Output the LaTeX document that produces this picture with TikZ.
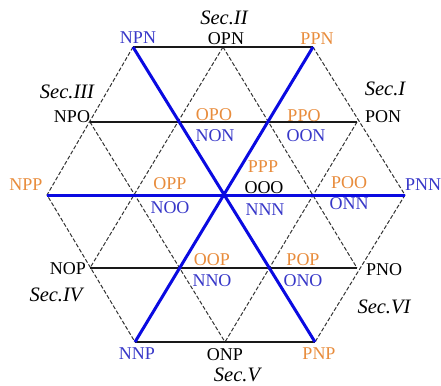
\documentclass[tikz,border=0pt]{standalone}
\usepackage{fontspec}
\setmainfont{Liberation Serif}
\definecolor{lblblue}{RGB}{55,55,200}
\definecolor{lblorange}{RGB}{232,140,60}
\definecolor{lineblue}{RGB}{10,10,225}
\begin{document}
\begin{tikzpicture}[x=1pt,y=-1pt,
  lbl/.style={inner sep=0pt,font=\fontsize{18}{19}\selectfont},
  bl/.style={lbl,text=lblblue},
  og/.style={lbl,text=lblorange},
  bk/.style={lbl,text=black},
  sec/.style={inner sep=0pt,font=\fontsize{20.5}{22}\selectfont\itshape},
  solidline/.style={draw=black!90,line width=1.3pt},
  dashline/.style={draw=black!80,line width=1pt,dash pattern=on 4pt off 2pt},
  blueline/.style={draw=lineblue,line width=3pt}]
\useasboundingbox (0,0) rectangle (441,385);
% grid vertices
\coordinate (a0) at (133,47);
\coordinate (a1) at (223,47);
\coordinate (a2) at (313,47);
\coordinate (b0) at (90,122);
\coordinate (b1) at (178,122);
\coordinate (b2) at (268,122);
\coordinate (b3) at (357,122);
\coordinate (c0) at (47,195);
\coordinate (c1) at (135,195);
\coordinate (c2) at (225,195);
\coordinate (c3) at (315,195);
\coordinate (c4) at (405,195);
\coordinate (d0) at (90,268);
\coordinate (d1) at (178,268);
\coordinate (d2) at (268,268);
\coordinate (d3) at (357,268);
\coordinate (e0) at (135,342);
\coordinate (e1) at (225,342);
\coordinate (e2) at (315,342);
% dashed grid lines
\draw[dashline] (a0) -- (c0) -- (e0);
\draw[dashline] (a2) -- (c4) -- (e2);
\draw[dashline] (a1) -- (d0);
\draw[dashline] (a1) -- (d3);
\draw[dashline] (b0) -- (e1);
\draw[dashline] (b3) -- (e1);
% solid horizontal lines
\draw[solidline] (a0) -- (a2);
\draw[solidline] (b0) -- (b3);
\draw[solidline] (d0) -- (d3);
\draw[solidline] (e0) -- (e2);
% blue axes
\draw[blueline] (c0) -- (c4);
\draw[blueline] (a0) -- (e2);
\draw[blueline] (e0) -- (a2);
% labels
\node[sec] (s2) at (224,18) {Sec.II};
\node[sec] (s1) at (385,89) {Sec.I};
\node[sec] (s3) at (67,92) {Sec.III};
\node[sec] (s4) at (56,295) {Sec.IV};
\node[sec] (s5) at (237,375) {Sec.V};
\node[sec] (s6) at (384,307) {Sec.VI};
\node[bk] (lOPN) at (226,39) {OPN};
\node[bl] (lNPN) at (138,38) {NPN};
\node[og] (lPPN) at (317,39) {PPN};
\node[bk] (lNPO) at (72,117) {NPO};
\node[bk] (lPON) at (383,117) {PON};
\node[og] (lOPO) at (214,115) {OPO};
\node[bl] (lNON) at (215,136) {NON};
\node[og] (lPPO) at (304,116) {PPO};
\node[bl] (lOON) at (306,136) {OON};
\node[og] (lPPP) at (263,167) {PPP};
\node[bk] (lOOO) at (264,188) {OOO};
\node[bl] (lNNN) at (265,210) {NNN};
\node[og] (lOPP) at (170,184) {OPP};
\node[bl] (lNOO) at (170,208) {NOO};
\node[og] (lNPP) at (26,185) {NPP};
\node[og] (lPOO) at (349,183) {POO};
\node[bl] (lONN) at (349,204) {ONN};
\node[bl] (lPNN) at (423,185) {PNN};
\node[og] (lOOP) at (212,260) {OOP};
\node[bl] (lNNO) at (212,281) {NNO};
\node[og] (lPOP) at (303,260) {POP};
\node[bl] (lONO) at (303,281) {ONO};
\node[bk] (lNOP) at (68,269) {NOP};
\node[bk] (lPNO) at (384,270) {PNO};
\node[bl] (lNNP) at (137,354) {NNP};
\node[bk] (lONP) at (225,355) {ONP};
\node[og] (lPNP) at (319,354) {PNP};
\end{tikzpicture}
\end{document}
